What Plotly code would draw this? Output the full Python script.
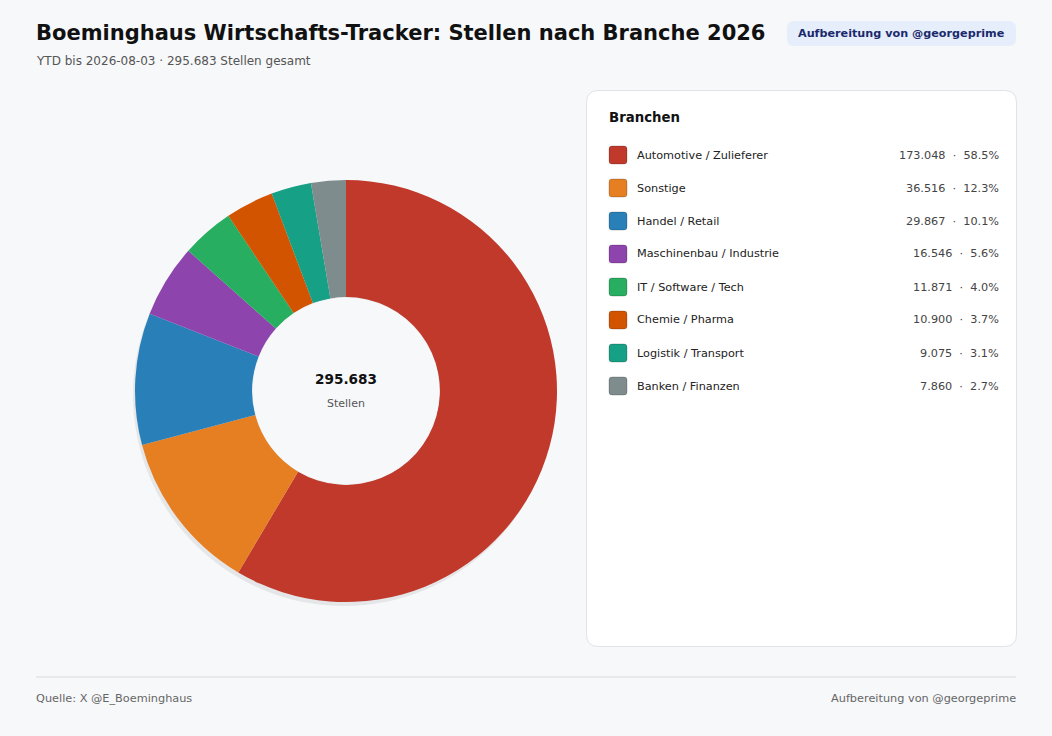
import plotly.graph_objects as go

W, H = 1052, 736

categories = ["Automotive / Zulieferer", "Sonstige", "Handel / Retail",
              "Maschinenbau / Industrie", "IT / Software / Tech", "Chemie / Pharma",
              "Logistik / Transport", "Banken / Finanzen"]
values = [173048, 36516, 29867, 16546, 11871, 10900, 9075, 7860]
colors = ["#c0392b", "#e67e22", "#2980b9", "#8e44ad", "#27ae60", "#d35400", "#16a085", "#7f8c8d"]

title = "Boeminghaus Wirtschafts-Tracker: Stellen nach Branche 2026"
badge = "Aufbereitung von @georgeprime"
source = "Quelle: X @E_Boeminghaus"
total = sum(values)
subtitle = f"YTD bis 2026-08-03 · {total:,} Stellen gesamt".replace(",", ".")

FONT = "DejaVu Sans"
BG = "#f7f8fa"
HOLE = 0.445


def fmt(v):
    return f"{v:,}".replace(",", ".")


def px(x):
    return x / W


def py(y):
    return 1 - y / H


def rrect(x0, y0, x1, y1, r):
    pts = [
        f"M {px(x0 + r)} {py(y0)}",
        f"L {px(x1 - r)} {py(y0)}",
        f"Q {px(x1)} {py(y0)} {px(x1)} {py(y0 + r)}",
        f"L {px(x1)} {py(y1 - r)}",
        f"Q {px(x1)} {py(y1)} {px(x1 - r)} {py(y1)}",
        f"L {px(x0 + r)} {py(y1)}",
        f"Q {px(x0)} {py(y1)} {px(x0)} {py(y1 - r)}",
        f"L {px(x0)} {py(y0 + r)}",
        f"Q {px(x0)} {py(y0)} {px(x0 + r)} {py(y0)}",
        "Z",
    ]
    return " ".join(pts)


def label(text, x, y, size, color, anchor="left"):
    return dict(text=text, x=px(x), y=py(y), xref="paper", yref="paper",
                xanchor=anchor, yanchor="middle", showarrow=False,
                borderpad=0, borderwidth=0,
                font=dict(family=FONT, size=size, color=color))


cx, cy, R = 346, 391, 211
r_in = R * HOLE

fig = go.Figure()
fig.add_trace(go.Pie(
    labels=categories, values=values, sort=False, direction="clockwise", rotation=0,
    hole=HOLE, marker=dict(colors=colors, line=dict(width=0)),
    textinfo="none", showlegend=False, hoverinfo="label+value+percent",
    domain=dict(x=[px(cx - R), px(cx + R)], y=[py(cy + R), py(cy - R)]),
))

shapes = []
annotations = []

# donut shadow
shapes.append(dict(type="circle", xref="paper", yref="paper", layer="below",
                   x0=px(cx - R - 2), x1=px(cx + R - 2), y0=py(cy + R + 4), y1=py(cy - R + 4),
                   fillcolor="rgba(0,0,0,0.07)", line=dict(width=0)))
# hole fill (covers shadow inside the hole)
shapes.append(dict(type="circle", xref="paper", yref="paper", layer="above",
                   x0=px(cx - r_in + 0.5), x1=px(cx + r_in - 0.5), y0=py(cy + r_in - 0.5), y1=py(cy - r_in + 0.5),
                   fillcolor=BG, line=dict(width=0)))

# legend panel
shapes.append(dict(type="path", xref="paper", yref="paper", layer="below",
                   path=rrect(586.5, 90.5, 1016.5, 646.5, 12),
                   fillcolor="white", line=dict(color="#dfe2e6", width=1)))

# badge
shapes.append(dict(type="path", xref="paper", yref="paper", layer="below",
                   path=rrect(787, 21, 1016, 46, 7),
                   fillcolor="#e6eefb", line=dict(width=0)))

# footer line
shapes.append(dict(type="line", xref="paper", yref="paper",
                   x0=px(36), x1=px(1016), y0=py(677), y1=py(677),
                   line=dict(color="#e3e5e8", width=1.5)))

annotations.append(label(f"<b>{title}</b>", 36, 33, 21, "#111111"))
annotations.append(label(subtitle, 36, 61, 12, "#555555"))
annotations.append(label(f"<b>{badge}</b>", 901.5, 33.5, 11.2, "#1a2a6c", "center"))

# center text
annotations.append(label(f"<b>{fmt(total)}</b>", cx, 379, 13.6, "#111111", "center"))
annotations.append(label("Stellen", cx, 403, 11, "#555555", "center"))

# legend
annotations.append(label("<b>Branchen</b>", 609, 117, 13.3, "#111111"))
row0, step = 155, 33
for i, (cat, v, c) in enumerate(zip(categories, values, colors)):
    yy = row0 + i * step
    shapes.append(dict(type="path", xref="paper", yref="paper",
                       path=rrect(609, yy - 9, 627, yy + 9, 3),
                       fillcolor=c, line=dict(color="rgba(0,0,0,0.25)", width=0.8)))
    annotations.append(label(cat, 637, yy, 11.25, "#222222"))
    pct = v / total * 100
    annotations.append(label(f"{fmt(v)}  ·  {pct:.1f}%", 999, yy, 11.25, "#444444", "right"))

# footer
annotations.append(label(source, 36, 698, 11.3, "#666666"))
annotations.append(label(badge, 1016, 698, 11.3, "#666666", "right"))

fig.update_layout(
    width=W, height=H, margin=dict(l=0, r=0, t=0, b=0),
    paper_bgcolor=BG, plot_bgcolor=BG,
    shapes=shapes, annotations=annotations,
    font=dict(family=FONT),
)

fig.write_html("out.html", config={"displayModeBar": False},
               post_script="document.body.style.margin='0';document.body.style.background='%s';" % BG)
